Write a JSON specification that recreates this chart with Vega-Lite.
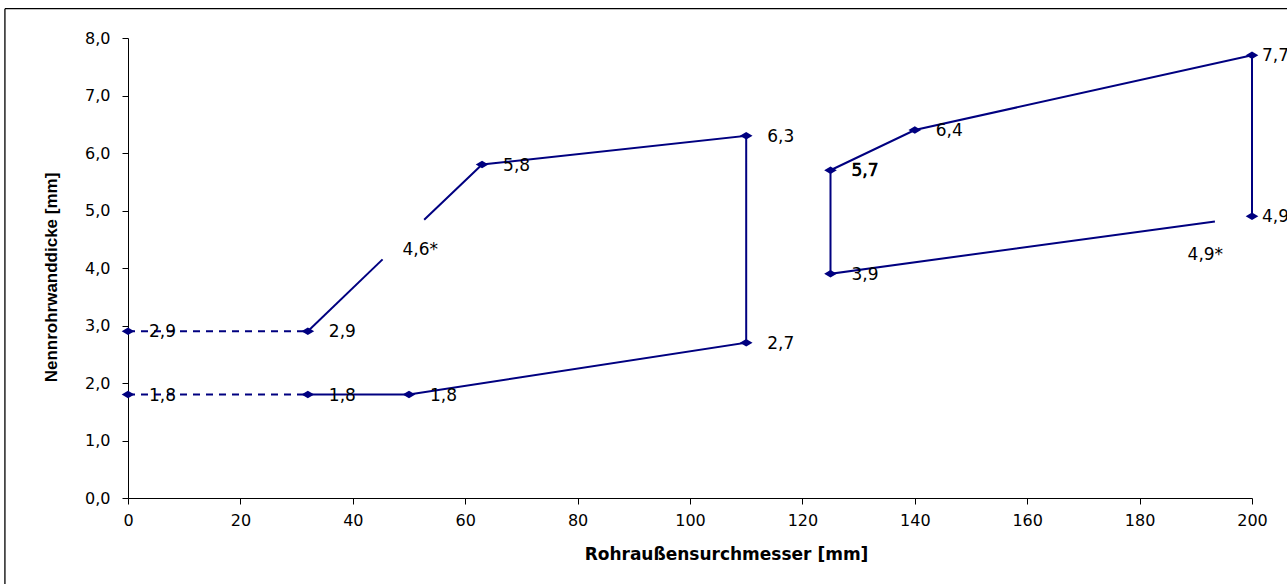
{
  "$schema": "https://vega.github.io/schema/vega-lite/v6.json",
  "autosize": {"type": "none"},
  "padding": {"left": 128, "top": 38, "right": 35, "bottom": 86},
  "width": 1124,
  "height": 460,
  "background": "white",
  "datasets": {
    "dashed": [
      {"seg": "a", "x": 0, "y": 2.9},
      {"seg": "a", "x": 32, "y": 2.9},
      {"seg": "b", "x": 0, "y": 1.8},
      {"seg": "b", "x": 32, "y": 1.8}
    ],
    "solid": [
      {"seg": "s1", "o": 1, "x": 32, "y": 2.9},
      {"seg": "s1", "o": 2, "x": 45.3, "y": 4.15},
      {"seg": "s2", "o": 1, "x": 52.7, "y": 4.84},
      {"seg": "s2", "o": 2, "x": 63, "y": 5.8},
      {"seg": "s2", "o": 3, "x": 110, "y": 6.3},
      {"seg": "s2", "o": 4, "x": 110, "y": 2.7},
      {"seg": "s2", "o": 5, "x": 50, "y": 1.8},
      {"seg": "s2", "o": 6, "x": 32, "y": 1.8},
      {"seg": "s3", "o": 1, "x": 193.4, "y": 4.81},
      {"seg": "s3", "o": 2, "x": 125, "y": 3.9},
      {"seg": "s3", "o": 3, "x": 125, "y": 5.7},
      {"seg": "s3", "o": 4, "x": 140, "y": 6.4},
      {"seg": "s3", "o": 5, "x": 200, "y": 7.7},
      {"seg": "s3", "o": 6, "x": 200, "y": 4.9}
    ],
    "points": [
      {"x": 0, "y": 2.9},
      {"x": 32, "y": 2.9},
      {"x": 0, "y": 1.8},
      {"x": 32, "y": 1.8},
      {"x": 50, "y": 1.8},
      {"x": 63, "y": 5.8},
      {"x": 110, "y": 6.3},
      {"x": 110, "y": 2.7},
      {"x": 125, "y": 5.7},
      {"x": 125, "y": 3.9},
      {"x": 140, "y": 6.4},
      {"x": 200, "y": 7.7},
      {"x": 200, "y": 4.9}
    ],
    "notes": [
      {"x": 52, "y": 4.32, "label": "4,6*"},
      {"x": 191.7, "y": 4.22, "label": "4,9*"}
    ],
    "frame": [
      {"edge": "outer"}
    ]
  },
  "layer": [
    {
      "data": {"name": "dashed"},
      "mark": {"type": "line", "color": "#000080", "strokeWidth": 2, "strokeDash": [7, 6]},
      "encoding": {
        "x": {
          "field": "x", "type": "quantitative",
          "scale": {"domain": [0, 200], "nice": false, "zero": false},
          "title": "Rohraußensurchmesser [mm]",
          "axis": {"values": [0, 20, 40, 60, 80, 100, 120, 140, 160, 180, 200], "format": "d"}
        },
        "y": {
          "field": "y", "type": "quantitative",
          "scale": {"domain": [0, 8], "nice": false, "zero": false},
          "title": "Nennrohrwanddicke [mm]",
          "axis": {"values": [0, 1, 2, 3, 4, 5, 6, 7, 8], "format": ".1f"}
        },
        "detail": {"field": "seg"}
      }
    },
    {
      "data": {"name": "solid"},
      "mark": {"type": "line", "color": "#000080", "strokeWidth": 2},
      "encoding": {
        "x": {"field": "x", "type": "quantitative", "title": "Rohraußensurchmesser [mm]"},
        "y": {"field": "y", "type": "quantitative", "title": "Nennrohrwanddicke [mm]"},
        "detail": {"field": "seg"},
        "order": {"field": "o", "type": "quantitative"}
      }
    },
    {
      "data": {"name": "points"},
      "mark": {"type": "point", "shape": "M-1,0L0,-0.6L1,0L0,0.6Z", "size": 160, "filled": true, "color": "#000080", "opacity": 1},
      "encoding": {
        "x": {"field": "x", "type": "quantitative", "title": "Rohraußensurchmesser [mm]"},
        "y": {"field": "y", "type": "quantitative", "title": "Nennrohrwanddicke [mm]"}
      }
    },
    {
      "data": {"name": "points"},
      "transform": [{"filter": "datum.x < 200"}],
      "mark": {"type": "text", "align": "left", "baseline": "middle", "dx": 21, "dy": 1, "font": "DejaVu Sans", "fontSize": 17, "color": "#000"},
      "encoding": {
        "x": {"field": "x", "type": "quantitative", "title": "Rohraußensurchmesser [mm]"},
        "y": {"field": "y", "type": "quantitative", "title": "Nennrohrwanddicke [mm]"},
        "text": {"field": "y", "type": "quantitative", "format": ".1f"}
      }
    },
    {
      "data": {"name": "points"},
      "transform": [{"filter": "datum.x == 125 && datum.y > 5"}],
      "mark": {"type": "text", "align": "left", "baseline": "middle", "dx": 21, "dy": 1, "font": "DejaVu Sans", "fontSize": 17, "color": "#000", "stroke": "#000", "strokeWidth": 0.5},
      "encoding": {
        "x": {"field": "x", "type": "quantitative", "title": "Rohraußensurchmesser [mm]"},
        "y": {"field": "y", "type": "quantitative", "title": "Nennrohrwanddicke [mm]"},
        "text": {"field": "y", "type": "quantitative", "format": ".1f"}
      }
    },
    {
      "data": {"name": "points"},
      "transform": [{"filter": "datum.x >= 200"}],
      "mark": {"type": "text", "align": "left", "baseline": "middle", "dx": 10, "dy": 1, "font": "DejaVu Sans", "fontSize": 17, "color": "#000"},
      "encoding": {
        "x": {"field": "x", "type": "quantitative", "title": "Rohraußensurchmesser [mm]"},
        "y": {"field": "y", "type": "quantitative", "title": "Nennrohrwanddicke [mm]"},
        "text": {"field": "y", "type": "quantitative", "format": ".1f"}
      }
    },
    {
      "data": {"name": "notes"},
      "mark": {"type": "text", "align": "center", "baseline": "middle", "font": "DejaVu Sans", "fontSize": 17, "color": "#000"},
      "encoding": {
        "x": {"field": "x", "type": "quantitative", "title": "Rohraußensurchmesser [mm]"},
        "y": {"field": "y", "type": "quantitative", "title": "Nennrohrwanddicke [mm]"},
        "text": {"field": "label"}
      }
    },
    {
      "data": {"name": "frame"},
      "mark": {"type": "rule", "color": "#000", "strokeWidth": 1.3, "clip": false},
      "encoding": {
        "x": {"datum": -21.9, "type": "quantitative", "title": "Rohraußensurchmesser [mm]"},
        "x2": {"datum": 260},
        "y": {"datum": 8.51, "type": "quantitative", "title": "Nennrohrwanddicke [mm]"}
      }
    },
    {
      "data": {"name": "frame"},
      "mark": {"type": "rule", "color": "#000", "strokeWidth": 1.3, "clip": false},
      "encoding": {
        "x": {"datum": -21.9, "type": "quantitative", "title": "Rohraußensurchmesser [mm]"},
        "y": {"datum": 8.51, "type": "quantitative", "title": "Nennrohrwanddicke [mm]"},
        "y2": {"datum": -3}
      }
    }
  ],
  "config": {
    "locale": {"number": {"decimal": ",", "thousands": ".", "grouping": [3], "currency": ["", " €"]}},
    "view": {"stroke": null},
    "axis": {
      "grid": false,
      "tickSize": 6,
      "labelFont": "DejaVu Sans",
      "labelFontSize": 16,
      "labelColor": "#000",
      "labelFlush": false,
      "labelOverlap": false,
      "domainColor": "#000",
      "tickColor": "#000",
      "titleColor": "#000",
      "titleFontWeight": "bold"
    },
    "axisX": {
      "labelPadding": 8,
      "titleFont": "DejaVu Sans",
      "titleFontSize": 17,
      "titlePadding": 18,
      "titleX": 598
    },
    "axisY": {
      "labelPadding": 12,
      "titleFont": "Liberation Sans",
      "titleFontSize": 17,
      "titlePadding": 24,
      "titleY": 239
    }
  }
}
